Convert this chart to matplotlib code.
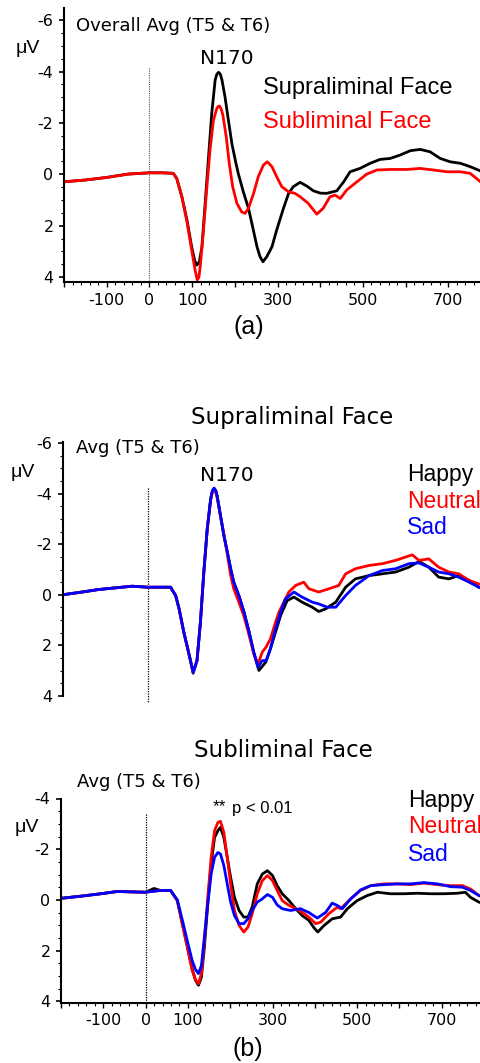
import numpy as np
import matplotlib
matplotlib.use("Agg")
import matplotlib.pyplot as plt
from matplotlib.ticker import MultipleLocator, FixedLocator, FuncFormatter

plt.rcParams['font.family'] = 'DejaVu Sans'
plt.rcParams['axes.unicode_minus'] = False

# ---- panel (a): overall average, supraliminal vs subliminal ----
a_supra_t = [-200, -150, -100, -50, 0, 30, 56, 64, 76, 88, 99, 106, 111, 117, 123, 130, 138, 146, 154, 158, 162, 166, 170, 177,
             185, 193, 201, 208, 220, 232, 240, 252, 259, 266, 275, 287, 298, 314, 326, 337, 353, 369, 384, 400,
             415, 439, 455, 470, 493, 517, 540, 564, 587, 611, 634, 657, 681, 704, 728, 751, 780]
a_supra_v = [0.29, 0.22, 0.12, -0.01, -0.06, -0.06, -0.04, 0.16, 0.87, 1.78, 2.82, 3.35, 3.53, 3.4, 2.82, 1.26, -0.56, -2.37, -3.67, -3.9, -3.97, -3.9, -3.67, -3.02,
             -2.11, -1.21, -0.56, -0.04, 0.68, 1.32, 1.91, 2.82, 3.2, 3.4, 3.2, 2.82, 2.17, 1.32, 0.74, 0.48, 0.31, 0.46, 0.64, 0.73,
             0.74, 0.64, 0.29, -0.1, -0.23, -0.43, -0.58, -0.62, -0.75, -0.92, -0.97, -0.88, -0.62, -0.49, -0.43, -0.3, -0.1]
a_sub_t = [-200, -150, -100, -50, 0, 30, 56, 64, 76, 88, 99, 107, 112, 116, 119, 126, 134, 142, 150, 158, 161, 164, 168,
           172, 180, 187, 195, 205, 216, 224, 232, 244, 255, 267, 276, 287, 298, 310, 326, 341, 353, 372, 392,
           407, 423, 435, 447, 462, 486, 509, 533, 564, 603, 634, 665, 697, 728, 751, 780]
a_sub_v = [0.29, 0.22, 0.12, -0.01, -0.06, -0.06, -0.04, 0.16, 0.87, 1.85, 2.95, 3.72, 4.11, 4.0, 3.59, 2.3, 0.61, -0.95, -2.11, -2.57, -2.64, -2.66, -2.55,
           -2.31, -1.46, -0.43, 0.48, 1.13, 1.46, 1.52, 1.32, 0.74, 0.09, -0.36, -0.49, -0.3, 0.09, 0.48, 0.68, 0.74, 0.87, 1.13, 1.55,
           1.32, 0.87, 0.81, 0.94, 0.61, 0.29, -0.01, -0.17, -0.19, -0.19, -0.23, -0.17, -0.1, -0.1, -0.04, 0.35]

# ---- panel (b) top: supraliminal face by emotion ----
s_happy_t = [-200, -150, -115, -37, 0, 26, 53, 65, 73, 84, 96, 106, 115, 123, 131, 139, 147, 151, 155, 159, 162, 170,
             178, 186, 194, 201, 213, 225, 237, 248, 260, 276, 287, 299, 311, 326, 342, 361, 385, 400, 416, 440,
             463, 486, 518, 549, 580, 611, 635, 658, 681, 705, 728, 752, 775]
s_happy_v = [0.0, -0.12, -0.21, -0.34, -0.3, -0.3, -0.3, 0.03, 0.55, 1.47, 2.33, 3.1, 2.6, 1.08, -0.9, -2.61, -3.79, -4.1, -4.2, -4.1, -3.92, -3.13,
             -2.34, -1.69, -1.0, -0.5, 0.03, 0.68, 1.47, 2.3, 2.99, 2.66, 2.13, 1.47, 0.81, 0.23, 0.09, 0.29, 0.49, 0.66, 0.56, 0.29,
             -0.3, -0.63, -0.76, -0.83, -0.9, -1.09, -1.32, -1.09, -0.7, -0.63, -0.76, -0.57, -0.3]
s_neutral_t = [-200, -150, -115, -37, 0, 26, 53, 65, 73, 84, 96, 106, 115, 123, 131, 139, 147, 151, 155, 159, 162, 170,
               178, 186, 194, 201, 213, 225, 237, 248, 258, 268, 277, 287, 299, 307, 330, 346, 365, 377, 400, 424,
               447, 463, 486, 518, 549, 580, 603, 619, 635, 658, 681, 705, 728, 752, 775]
s_neutral_v = [0.0, -0.12, -0.21, -0.34, -0.3, -0.3, -0.3, 0.03, 0.55, 1.47, 2.33, 3.06, 2.6, 1.08, -0.9, -2.61, -3.75, -4.05, -4.15, -4.05, -3.85, -3.1,
               -2.4, -1.6, -0.76, -0.24, 0.29, 0.85, 1.6, 2.35, 2.73, 2.26, 2.06, 1.74, 1.08, 0.68, -0.11, -0.37, -0.5, -0.24, -0.11, -0.24,
               -0.37, -0.83, -1.03, -1.16, -1.23, -1.36, -1.49, -1.58, -1.36, -1.42, -1.09, -0.9, -0.83, -0.57, -0.43]
s_sad_t = [-200, -150, -115, -37, 0, 26, 53, 65, 73, 84, 96, 106, 115, 123, 131, 139, 147, 151, 155, 159, 162, 170,
           178, 186, 194, 201, 213, 225, 237, 248, 258, 268, 277, 287, 299, 311, 322, 342, 361, 385, 400, 420,
           440, 463, 486, 518, 549, 580, 611, 635, 658, 681, 705, 728, 752, 775]
s_sad_v = [0.0, -0.12, -0.21, -0.34, -0.3, -0.3, -0.3, 0.03, 0.55, 1.47, 2.33, 3.06, 2.6, 1.08, -0.9, -2.61, -3.79, -4.12, -4.22, -4.12, -3.92, -3.13,
           -2.34, -1.69, -1.03, -0.5, 0.03, 0.68, 1.47, 2.26, 2.86, 2.6, 2.6, 2.13, 1.34, 0.68, 0.16, -0.11, 0.09, 0.29, 0.36, 0.49,
           0.49, 0.03, -0.37, -0.76, -0.96, -1.03, -1.23, -1.26, -1.09, -0.9, -0.83, -0.7, -0.5, -0.3]

# ---- panel (b) bottom: subliminal face by emotion ----
b_happy_t = [-200, -150, -106, -67, 0, 20, 35, 59, 75, 87, 99, 110, 118, 125, 132, 139, 147, 155, 163, 171,
             177, 185, 193, 201, 210, 221, 232, 242, 252, 264, 276, 288, 300, 311, 323, 339, 355, 370, 386, 398,
             407, 422, 441, 461, 477, 500, 524, 548, 579, 611, 642, 674, 705, 737, 756, 768, 788]
b_happy_v = [-0.06, -0.15, -0.24, -0.33, -0.3, -0.45, -0.37, -0.37, 0.03, 0.94, 1.87, 2.72, 3.18, 3.37, 3.05, 1.87, 0.16, -1.42, -2.46, -2.73,
             -2.86, -2.46, -1.68, -0.89, -0.1, 0.42, 0.68, 0.68, 0.29, -0.63, -1.02, -1.15, -0.96, -0.56, -0.24, 0.03, 0.35, 0.62, 0.81, 1.1,
             1.27, 1.01, 0.75, 0.68, 0.35, 0.03, -0.17, -0.3, -0.24, -0.24, -0.26, -0.24, -0.24, -0.26, -0.3, -0.1, 0.09]
b_neutral_t = [-200, -150, -106, -67, 0, 35, 59, 75, 87, 99, 110, 118, 125, 132, 139, 147, 155, 163, 171, 177,
               185, 193, 201, 210, 221, 232, 242, 252, 264, 276, 288, 300, 311, 323, 339, 355, 370, 386, 402, 414,
               433, 453, 461, 485, 508, 532, 563, 595, 626, 658, 690, 721, 749, 768, 788]
b_neutral_v = [-0.06, -0.15, -0.24, -0.33, -0.3, -0.37, -0.37, 0.03, 0.99, 1.9, 2.78, 3.15, 3.31, 2.91, 1.6, -0.1, -1.68, -2.73, -3.06, -3.1,
               -2.66, -1.68, -0.63, 0.42, 1.01, 1.27, 1.08, 0.55, -0.24, -0.76, -0.96, -0.76, -0.37, 0.03, 0.22, 0.35, 0.49, 0.68, 0.94, 0.88,
               0.55, 0.29, 0.35, -0.04, -0.37, -0.56, -0.63, -0.63, -0.6, -0.66, -0.6, -0.56, -0.56, -0.43, -0.17]
b_sad_t = [-200, -150, -106, -67, 0, 35, 59, 75, 87, 99, 110, 118, 125, 132, 139, 147, 155, 163, 171, 177,
           185, 193, 201, 210, 221, 232, 242, 252, 264, 276, 288, 300, 311, 323, 343, 366, 386, 406, 426, 441,
           453, 465, 485, 508, 532, 563, 595, 626, 658, 690, 721, 749, 768, 788]
b_sad_v = [-0.06, -0.15, -0.24, -0.33, -0.3, -0.37, -0.37, 0.0, 0.81, 1.65, 2.39, 2.75, 2.91, 2.59, 1.47, 0.16, -1.02, -1.68, -1.87, -1.81,
           -1.35, -0.63, 0.09, 0.62, 0.94, 0.94, 0.75, 0.42, 0.09, -0.04, -0.21, -0.1, 0.2, 0.35, 0.42, 0.35, 0.5, 0.72, 0.49, 0.13,
           0.22, 0.35, -0.04, -0.39, -0.56, -0.6, -0.63, -0.63, -0.68, -0.63, -0.52, -0.5, -0.37, -0.17]

x_labels = {-100: '-100', 0: '0', 100: '100', 300: '300', 500: '500', 700: '700'}
RED = '#ff0000'
BLUE = '#0000ff'

W, H = 480, 1063
fig = plt.figure(figsize=(W / 100, H / 100), dpi=100)


def px_axes(left, top, right, bottom):
    return fig.add_axes([left / W, 1 - bottom / H, (right - left) / W, (bottom - top) / H])


def ftext(x, y, s, **kw):
    fig.text(x / W, 1 - y / H, s, **kw)


def style_axes(ax, ylim, yticks, show_x=True):
    ax.set_xlim(-200, 800)
    ax.set_ylim(*ylim)
    for s in ['top', 'right']:
        ax.spines[s].set_visible(False)
    ax.spines['left'].set_linewidth(1.5)
    ax.spines['bottom'].set_linewidth(1.5)
    ax.yaxis.set_major_locator(FixedLocator(yticks))
    ax.yaxis.set_minor_locator(MultipleLocator(0.5))
    ax.tick_params(axis='y', which='major', length=3.5, width=1.2, pad=4, labelsize=11.5)
    ax.tick_params(axis='y', which='minor', length=2, width=0.8)
    if show_x:
        ax.xaxis.set_major_locator(MultipleLocator(100))
        ax.xaxis.set_minor_locator(MultipleLocator(20))
        ax.xaxis.set_major_formatter(FuncFormatter(lambda v, p: x_labels.get(int(round(v)), '')))
        ax.tick_params(axis='x', which='major', length=3.5, width=1.0, pad=4, labelsize=11.5)
        ax.tick_params(axis='x', which='minor', length=2, width=0.8)
    else:
        ax.spines['bottom'].set_visible(False)
        ax.set_xticks([])
    ax.patch.set_alpha(0)


LW = 2.0

# panel (a)
ax1 = px_axes(64, 8.3, 491, 282.3)
style_axes(ax1, (4.2, -6.46), [-6, -4, -2, 0, 2, 4])
ax1.plot([0, 0], [-4.15, 4.1], color='#555555', lw=0.8, ls=(0, (1, 1)))
ax1.plot(a_supra_t, a_supra_v, color='black', lw=LW)
ax1.plot(a_sub_t, a_sub_v, color=RED, lw=LW)

ftext(76, 31, 'Overall Avg (T5 & T6)', fontsize=13, va='baseline')
ftext(16, 53, 'μV', fontsize=14, family='Liberation Sans', va='baseline')
ftext(200, 64, 'N170', fontsize=14.5, va='baseline')
ftext(263, 94, 'Supraliminal Face', fontsize=17, family='Liberation Sans', va='baseline', color='black')
ftext(263, 128, 'Subliminal Face', fontsize=17, family='Liberation Sans', va='baseline', color=RED)
ftext(249, 327, '(a)', fontsize=18, family='Liberation Sans', ha='center', va='center')

# panel (b) top
ax2 = px_axes(62.5, 442, 489.5, 696)
style_axes(ax2, (4.0, -6.04), [-6, -4, -2, 0, 2, 4], show_x=False)
ax2.plot([0, 0], [-4.23, 4.27], color='black', lw=0.9, ls=(0, (1, 1)), clip_on=False)
ax2.plot(s_happy_t, s_happy_v, color='black', lw=LW)
ax2.plot(s_neutral_t, s_neutral_v, color=RED, lw=LW)
ax2.plot(s_sad_t, s_sad_v, color=BLUE, lw=LW)

ftext(292, 424, 'Supraliminal Face', fontsize=16.5, ha='center', va='baseline')
ftext(76, 453, 'Avg (T5 & T6)', fontsize=13, va='baseline')
ftext(11, 477, 'μV', fontsize=14, family='Liberation Sans', va='baseline')
ftext(200, 481, 'N170', fontsize=14.5, va='baseline')
ftext(407, 481, 'Happy', fontsize=16.5, family='Liberation Sans', va='baseline', color='black')
ftext(407, 508, 'Neutral', fontsize=16.5, family='Liberation Sans', va='baseline', color=RED)
ftext(407, 534, 'Sad', fontsize=16.5, family='Liberation Sans', va='baseline', color=BLUE)

# panel (b) bottom
ax3 = px_axes(61, 798.5, 484, 1002.7)
style_axes(ax3, (4.06, -4.0), [-4, -2, 0, 2, 4])
ax3.plot([0, 0], [-3.37, 4.06], color='black', lw=0.9, ls=(0, (1, 1)))
ax3.plot(b_happy_t, b_happy_v, color='black', lw=LW)
ax3.plot(b_neutral_t, b_neutral_v, color=RED, lw=LW)
ax3.plot(b_sad_t, b_sad_v, color=BLUE, lw=LW)

ftext(283, 757, 'Subliminal Face', fontsize=16.5, ha='center', va='baseline')
ftext(77, 787, 'Avg (T5 & T6)', fontsize=13, va='baseline')
ftext(15, 832, 'μV', fontsize=14, family='Liberation Sans', va='baseline')
ftext(213, 811, '**', fontsize=12.5, family='Liberation Sans', va='baseline')
ftext(232, 813, 'p < 0.01', fontsize=12, family='Liberation Sans', va='baseline')
ftext(408, 807, 'Happy', fontsize=16.5, family='Liberation Sans', va='baseline', color='black')
ftext(408, 833, 'Neutral', fontsize=16.5, family='Liberation Sans', va='baseline', color=RED)
ftext(408, 861, 'Sad', fontsize=16.5, family='Liberation Sans', va='baseline', color=BLUE)
ftext(248, 1049, '(b)', fontsize=18, family='Liberation Sans', ha='center', va='center')

fig.savefig('out.png', dpi=100)
